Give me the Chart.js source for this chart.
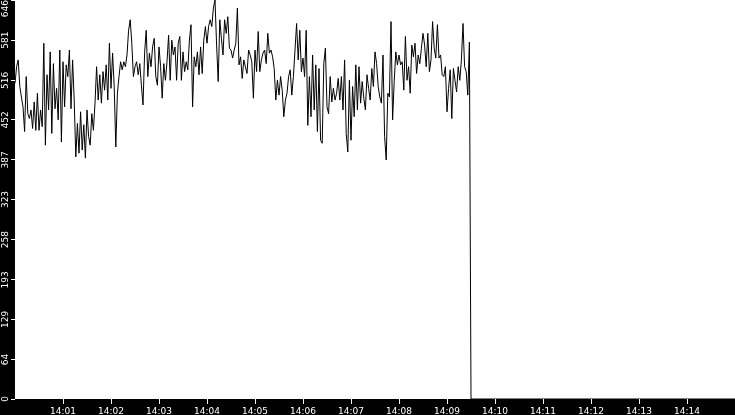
<!DOCTYPE html>
<html>
<head>
<meta charset="utf-8">
<script src="https://cdn.jsdelivr.net/npm/chart.js@4"></script>
<style>
  html, body { margin: 0; padding: 0; background: #000; }
  #wrap { width: 735px; height: 415px; }
</style>
</head>
<body>
<div id="wrap"><canvas id="rateChart" width="735" height="415"></canvas></div>
<script>
// one sample every 2 seconds, counted from 14:00:00
const SAMPLE_STEP = 2;

// readings, one array per minute
const min00 = [511, 538, 549, 506, 489, 473, 433, 522, 462, 454, 468, 438, 481, 435, 495, 435, 468, 441, 576, 411, 525, 468, 562, 430, 543, 470, 503, 452, 565, 416];
const min01 = [546, 473, 541, 522, 565, 470, 549, 484, 392, 446, 398, 465, 403, 444, 390, 468, 425, 411, 462, 435, 479, 538, 484, 525, 479, 530, 500, 541, 484, 576];
const min02 = [503, 560, 506, 408, 495, 522, 546, 533, 546, 538, 557, 597, 614, 576, 522, 538, 546, 525, 543, 508, 476, 560, 597, 522, 560, 538, 570, 584, 522, 508];
const min03 = [570, 538, 487, 543, 516, 546, 589, 516, 581, 557, 570, 516, 576, 587, 516, 562, 530, 546, 533, 581, 606, 473, 554, 538, 562, 525, 570, 527, 581, 603];
const min04 = [576, 603, 614, 603, 633, 646, 573, 514, 614, 584, 557, 614, 592, 619, 568, 565, 552, 565, 576, 633, 541, 554, 519, 549, 538, 527, 565, 557, 546, 487];
const min05 = [565, 530, 595, 530, 549, 560, 565, 543, 592, 560, 565, 554, 535, 484, 516, 492, 522, 500, 457, 484, 495, 522, 533, 492, 522, 565, 608, 549, 597, 530];
const min06 = [552, 522, 597, 443, 522, 457, 557, 468, 541, 433, 535, 419, 414, 543, 568, 473, 462, 522, 481, 503, 484, 495, 519, 484, 522, 468, 549, 430, 400, 516];
const min07 = [419, 506, 457, 541, 468, 538, 479, 514, 487, 468, 525, 503, 484, 535, 506, 562, 543, 506, 489, 479, 557, 425, 387, 495, 489, 611, 452, 514, 562, 541];
const min08 = [557, 541, 546, 500, 587, 516, 538, 495, 573, 554, 576, 527, 557, 543, 568, 592, 573, 538, 592, 530, 549, 611, 568, 552, 606, 552, 557, 525, 522, 538];
const min09 = [465, 503, 533, 454, 535, 516, 497, 538, 516, 549, 608, 538, 530, 492, 578];

// the feed drops out at about 14:09:29 and stays at zero to the end of the window
const tailSeconds = [569, 570, 900];
const tailValues = [290, 0, 0];

const xTickLabels = ['14:01', '14:02', '14:03', '14:04', '14:05', '14:06', '14:07', '14:08', '14:09', '14:10', '14:11', '14:12', '14:13', '14:14'];
const yTickLabels = ['0', '64', '129', '193', '258', '323', '387', '452', '516', '581', '646'];

// build {x, y} points; x is seconds after 14:00
function buildPoints() {
  const all = [].concat(min00, min01, min02, min03, min04, min05, min06, min07, min08, min09);
  const pts = all.map((v, i) => ({ x: i * SAMPLE_STEP, y: v }));
  for (let i = 0; i < tailSeconds.length; i++) {
    pts.push({ x: tailSeconds[i], y: tailValues[i] });
  }
  return pts;
}

// "14:05" -> 300
function labelToSeconds(label) {
  const mm = parseInt(label.split(':')[1], 10);
  return mm * 60;
}

// scales must not reserve room for overhanging labels
function noOverhang(axis) {
  axis.paddingTop = 0;
  axis.paddingBottom = 0;
  axis.paddingLeft = 0;
  axis.paddingRight = 0;
}

const tickFont = { family: 'DejaVu Sans', size: 9 };

// top y label is padded at its end so it hangs below its tick
const TOP_PAD = '\u00a0\u00a0\u00a0\u00a0\u00a0\u00a0';
function yLabel(i) {
  return i === yTickLabels.length - 1 ? yTickLabels[i] + TOP_PAD : yTickLabels[i];
}

// crossAlign 'center' shifts labels by half the widest one; undo that
const measure = document.createElement('canvas').getContext('2d');
measure.font = '9px "DejaVu Sans"';
const widestY = Math.max(...yTickLabels.map((l, i) => measure.measureText(yLabel(i)).width));
const Y_AXIS_W = 15;
const Y_TICK_LEN = 4;
const Y_LABEL_MID = 5.5;
const yPadding = Y_AXIS_W - Y_TICK_LEN - widestY / 2 - Y_LABEL_MID;

// black surround, white plot area
const backdrop = {
  id: 'backdrop',
  beforeDraw(chart) {
    const { ctx, chartArea } = chart;
    ctx.save();
    ctx.fillStyle = '#000';
    ctx.fillRect(0, 0, chart.width, chart.height);
    ctx.fillStyle = '#fff';
    ctx.fillRect(chartArea.left, chartArea.top, chartArea.right - chartArea.left, chartArea.bottom - chartArea.top);
    ctx.restore();
  }
};

const ctx = document.getElementById('rateChart').getContext('2d');
new Chart(ctx, {
  type: 'line',
  data: {
    datasets: [
      {
        data: buildPoints(),
        borderColor: '#000',
        borderWidth: 1,
        pointRadius: 0,
        tension: 0,
        fill: false
      }
    ]
  },
  options: {
    responsive: false,
    animation: false,
    devicePixelRatio: 1,
    layout: { padding: 0 },
    plugins: { legend: { display: false }, tooltip: { enabled: false } },
    scales: {
      x: {
        type: 'linear',
        min: 0,
        max: 900,
        afterBuildTicks: axis => {
          axis.ticks = xTickLabels.map(l => ({ value: labelToSeconds(l) }));
        },
        afterFit: axis => { axis.height = 16; noOverhang(axis); },
        ticks: {
          color: '#fff',
          font: tickFont,
          autoSkip: false,
          maxRotation: 0,
          padding: 2,
          callback: (v, i) => xTickLabels[i]
        },
        grid: { drawOnChartArea: false, color: '#fff', tickLength: 5, tickWidth: 1 },
        border: { display: false }
      },
      y: {
        min: 0,
        max: 646,
        afterBuildTicks: axis => {
          axis.ticks = yTickLabels.map(l => ({ value: Number(l) }));
        },
        afterFit: axis => { axis.width = Y_AXIS_W; noOverhang(axis); },
        ticks: {
          color: '#fff',
          font: tickFont,
          autoSkip: false,
          minRotation: 90,
          maxRotation: 90,
          crossAlign: 'center',
          padding: yPadding,
          callback: (v, i) => yLabel(i)
        },
        grid: { drawOnChartArea: false, color: '#fff', tickLength: Y_TICK_LEN, tickWidth: 1 },
        border: { display: false }
      }
    }
  },
  plugins: [backdrop]
});
</script>
</body>
</html>
